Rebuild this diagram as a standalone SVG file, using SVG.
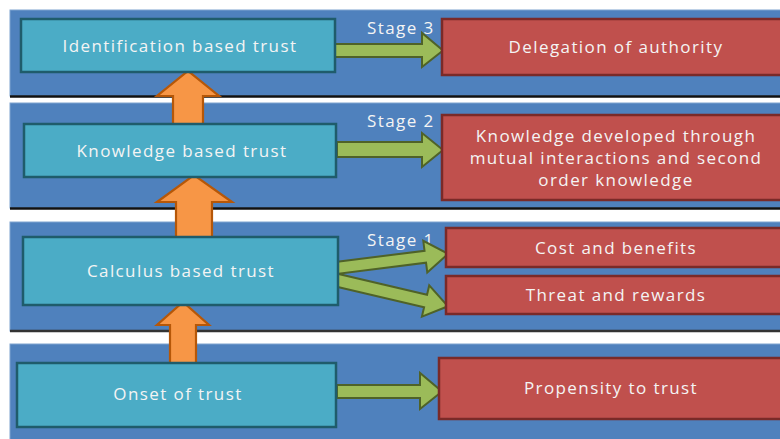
<svg xmlns="http://www.w3.org/2000/svg" width="780" height="439" viewBox="0 0 780 439">
<style>
.band{fill:#4F81BD;stroke:#7FA3D0;stroke-width:1}
.sep{stroke:#111;stroke-width:2.5}
.teal{fill:#4BACC6;stroke:#1F5C6B;stroke-width:2.5}
.red{fill:#C0504D;stroke:#7A2A28;stroke-width:2.5}
.green{fill:#9BBB59;stroke:#4F6228;stroke-width:2;stroke-linejoin:miter}
.orange{fill:#F79646;stroke:#B65708;stroke-width:2.2}
text{font-family:"Open Sans","Noto Sans","Liberation Sans",sans-serif;fill:#F4F4F4;font-size:17px;letter-spacing:1.4px;text-anchor:middle}
.stage{text-anchor:start}
</style>
<rect width="780" height="439" fill="#FFFFFF"/>
<g id="bands">
<rect class="band" x="10" y="10" width="775" height="86"/>
<line class="sep" x1="10" y1="96.5" x2="780" y2="96.5"/>
<rect class="band" x="10" y="103" width="775" height="105"/>
<line class="sep" x1="10" y1="208.5" x2="780" y2="208.5"/>
<rect class="band" x="10" y="222" width="775" height="109"/>
<line class="sep" x1="10" y1="331" x2="780" y2="331" style="stroke:#333"/>
<rect class="band" x="10" y="344" width="775" height="100"/>
</g>
<g id="stage-labels">
<text class="stage" x="367" y="34">Stage 3</text>
<text class="stage" x="367" y="127">Stage 2</text>
<text class="stage" x="367" y="246">Stage 1</text>
</g>
<g id="connectors">
<polygon class="orange" points="173,125 173,96 157,96 188,71 219,96 203,96 203,125"/>
<polygon class="orange" points="176,237 176,202 157,202 194,175 232,202 212,202 212,237"/>
<polygon class="orange" points="170,363 170,325 157,325 183,302 209,325 196,325 196,363"/>
<polygon class="green" points="335,44 422,44 422,33 443,50.5 422,67 422,57 335,57"/>
<polygon class="green" points="337,142 422,142 422,133 443,150 422,167 422,157 337,157"/>
<polygon class="green" points="337,385 420,385 420,373 442,391.5 420,409 420,398 337,398"/>
<g transform="translate(336,268) rotate(-7.2)">
<polygon class="green" points="0,-6 90,-6 90,-16 113,0 90,16 90,6 0,6"/>
</g>
<g transform="translate(336,280) rotate(13.2)">
<polygon class="green" points="0,-6.5 92,-6.5 92,-16 115,0 92,16 92,6.5 0,6.5"/>
</g>
</g>
<g id="identification">
<rect class="teal" x="21" y="19" width="314" height="53"/>
<text x="180" y="52">Identification based trust</text>
</g>
<g id="knowledge">
<rect class="teal" x="24" y="124" width="312" height="53"/>
<text x="182" y="157">Knowledge based trust</text>
</g>
<g id="calculus">
<rect class="teal" x="23" y="237" width="315" height="68"/>
<text x="181" y="277">Calculus based trust</text>
</g>
<g id="onset">
<rect class="teal" x="17" y="363" width="319" height="64"/>
<text x="178" y="400">Onset of trust</text>
</g>
<g id="delegation">
<rect class="red" x="442" y="19" width="345" height="56"/>
<text x="616" y="53">Delegation of authority</text>
</g>
<g id="knowledge-developed">
<rect class="red" x="442" y="115" width="345" height="85"/>
<text x="616" y="142">Knowledge developed through</text>
<text x="616" y="164">mutual interactions and second</text>
<text x="616" y="186">order knowledge</text>
</g>
<g id="cost">
<rect class="red" x="446" y="228" width="340" height="39"/>
<text x="616" y="254">Cost and benefits</text>
</g>
<g id="threat">
<rect class="red" x="446" y="276" width="340" height="38"/>
<text x="616" y="301">Threat and rewards</text>
</g>
<g id="propensity">
<rect class="red" x="439" y="358" width="347" height="61"/>
<text x="611" y="394">Propensity to trust</text>
</g>
</svg>
